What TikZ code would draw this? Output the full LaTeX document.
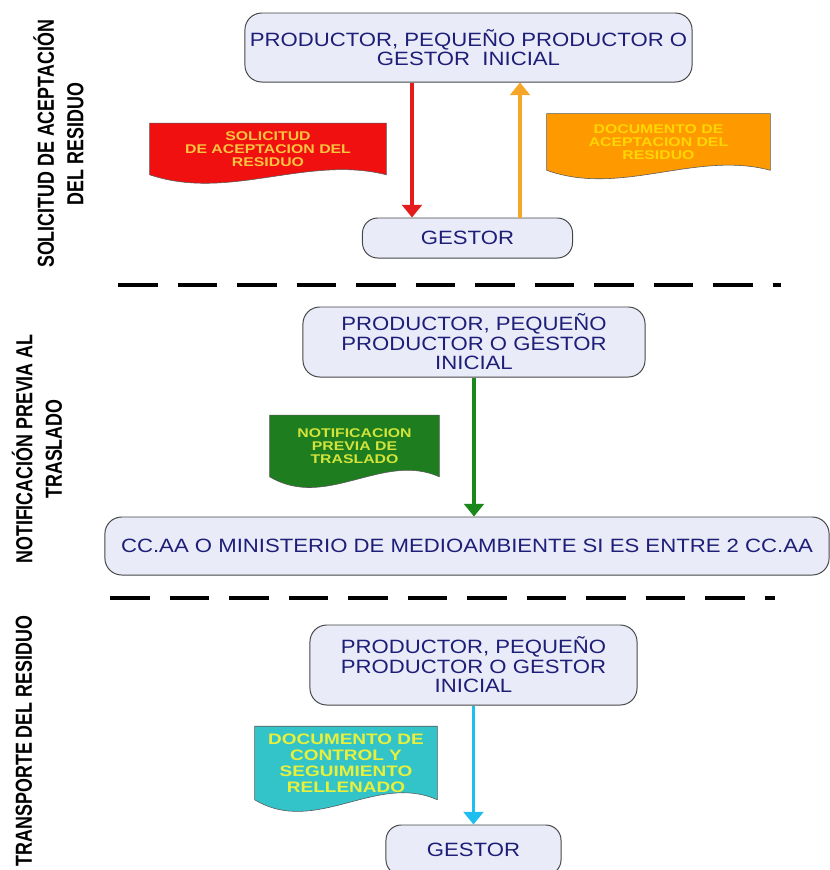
\documentclass[tikz,border=0pt]{standalone}
\usepackage{fontspec}
\setmainfont{Liberation Sans}
\newfontfamily\boxfont{Liberation Sans}[FakeStretch=1.15]
\newfontfamily\docfont{Liberation Sans}[FakeStretch=1.25]
\newfontfamily\sidefont{Liberation Sans}[FakeStretch=0.77]
\usetikzlibrary{arrows.meta}
\usetikzlibrary{backgrounds}
\usetikzlibrary{calc}

\definecolor{boxfill}{RGB}{233,236,248}
\definecolor{boxline}{RGB}{70,70,70}
\definecolor{boxtext}{RGB}{30,30,120}
\definecolor{solred}{RGB}{240,16,16}
\definecolor{arrred}{RGB}{228,28,28}
\definecolor{solyel}{RGB}{250,196,64}
\definecolor{acporange}{RGB}{255,153,0}
\definecolor{arrorange}{RGB}{245,166,40}
\definecolor{acpyel}{RGB}{255,214,0}
\definecolor{ntfgreen}{RGB}{30,125,30}
\definecolor{arrgreen}{RGB}{26,136,26}
\definecolor{ntfyel}{RGB}{210,228,60}
\definecolor{dcscyan}{RGB}{50,196,200}
\definecolor{arrcyan}{RGB}{30,190,238}
\definecolor{dcsyel}{RGB}{232,240,60}

\newcommand\docshape[3]{%
  \filldraw[fill=#2, draw=black!65, line width=.4pt]
    (#1.north west) -- (#1.north east) -- (#1.south east)
    .. controls ($(#1.south east)!.333!(#1.south west)+(0,#3*.75)$)
            and ($(#1.south east)!.667!(#1.south west)-(0,#3)$) .. (#1.south west) -- cycle;}

\begin{document}
\begin{tikzpicture}[x=0.025cm, y=-0.025cm,
  stage/.style={draw=boxline, fill=boxfill, rounded corners=0.42cm, line width=0.7pt,
    text=boxtext, font=\boxfont\fontsize{13.7}{13.8}\selectfont, align=center, inner sep=0pt},
  paper/.style={inner sep=0pt, align=center, font=\docfont\bfseries\fontsize{9}{9.4}\selectfont},
  side/.style={rotate=90, align=center, font=\sidefont\bfseries\fontsize{16.5}{21}\selectfont},
  flow/.style={line width=2.8pt, -{Triangle[width=14pt,length=9pt]}},
  sep/.style={line width=3pt, dash pattern=on 0.9875cm off 0.5cm}]
  \useasboundingbox (0,0) rectangle (830,870);
  \clip (0,0) rectangle (830,870);

  \node (sidea) [side] at (58.5,144) {SOLICITUD DE ACEPTACIÓN\\DEL RESIDUO};
  \node (sideb) [side] at (37,449) {NOTIFICACIÓN PREVIA AL\\TRASLADO};
  \node (sidec) [side] at (24,741) {TRANSPORTE DEL RESIDUO};

  \node (prodA) [stage, minimum width=11.175cm, minimum height=1.725cm] at (468.5,47.5)
    {PRODUCTOR, PEQUEÑO PRODUCTOR O\\GESTOR~ INICIAL};
  \node (gestA) [stage, minimum width=5.25cm, minimum height=1cm, rounded corners=0.38cm]
    at (467.5,238) {GESTOR};
  \node (solic) [paper, text=solyel, minimum width=5.9cm, minimum height=1.275cm]
    at (268,149) {SOLICITUD\\DE ACEPTACION DEL\\RESIDUO};
  \node (acept) [paper, text=acpyel, minimum width=5.575cm, minimum height=1.4cm]
    at (658.5,142) {DOCUMENTO DE\\ACEPTACION DEL\\RESIDUO};
  \path ([xshift=-1.4125cm]prodA.south) coordinate (redtop);
  \path ([xshift=1.2875cm]prodA.south) coordinate (oratop);
  \draw[flow, arrred] (redtop) -- (redtop |- gestA.north);
  \draw[flow, arrorange] (oratop |- gestA.north) -- (oratop);
  \draw[sep] (118,285) -- (781,285);

  \node (prodB) [stage, minimum width=8.55cm, minimum height=1.75cm] at (474,342)
    {PRODUCTOR, PEQUEÑO\\PRODUCTOR O GESTOR\\INICIAL};
  \node (ccaa) [stage, minimum width=18.1cm, minimum height=1.45cm] at (467,546)
    {CC.AA O MINISTERIO DE MEDIOAMBIENTE SI ES ENTRE 2 CC.AA};
  \node (notif) [paper, text=ntfyel, minimum width=4.225cm, minimum height=1.525cm]
    at (354.5,446) {NOTIFICACION\\PREVIA DE\\TRASLADO};
  \draw[flow, arrgreen] (prodB.south) -- (prodB.south |- ccaa.north);
  \draw[sep] (110,598) -- (775,598);

  \node (prodC) [stage, minimum width=8.175cm, minimum height=2cm] at (473.5,665)
    {PRODUCTOR, PEQUEÑO\\PRODUCTOR O GESTOR\\INICIAL};
  \node (gestC) [stage, minimum width=4.375cm, minimum height=1.25cm, rounded corners=0.38cm]
    at (473.5,850) {GESTOR};
  \node (dcs) [paper, text=dcsyel, minimum width=4.55cm, minimum height=1.825cm,
    font=\docfont\bfseries\fontsize{10.8}{11.4}\selectfont]
    at (346,763) {DOCUMENTO DE\\CONTROL Y\\SEGUIMIENTO\\RELLENADO};
  \draw[flow, arrcyan] (prodC.south) -- (gestC.north);

  \begin{scope}[on background layer]
    \docshape{solic}{solred}{19pt}
    \docshape{acept}{acporange}{19pt}
    \docshape{notif}{ntfgreen}{24pt}
    \docshape{dcs}{dcscyan}{26pt}
  \end{scope}
\end{tikzpicture}
\end{document}
